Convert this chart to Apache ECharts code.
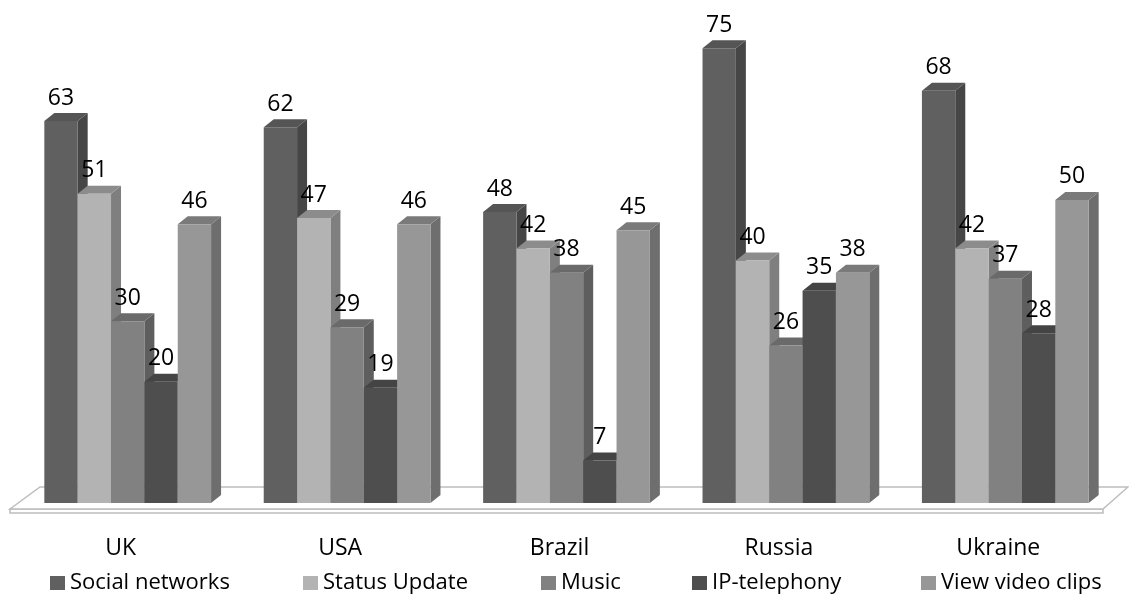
<!DOCTYPE html>
<html>
<head>
<meta charset="utf-8">
<script src="https://cdn.jsdelivr.net/npm/echarts/dist/echarts.min.js"></script>
<style>
    html, body { margin: 0; padding: 0; background: #fff; }
    #chart { width: 1129px; height: 599px; }
</style>
</head>
<body>
<div id="chart"></div>
<script>
var countries = ['UK', 'USA', 'Brazil', 'Russia', 'Ukraine'];
var seriesNames = ['Social networks', 'Status Update', 'Music', 'IP-telephony', 'View video clips'];

var socialNetworks = [63, 62, 48, 75, 68];
var statusUpdate = [51, 47, 42, 40, 42];
var music = [30, 29, 38, 26, 37];
var ipTelephony = [20, 19, 7, 35, 28];
var viewVideoClips = [46, 46, 45, 38, 50];

var values = [socialNetworks, statusUpdate, music, ipTelephony, viewVideoClips];

// front / side / top shades for each series
var shades = [
    ['#606060', '#464646', '#555555'],
    ['#b3b3b3', '#7f7f7f', '#8c8c8c'],
    ['#818181', '#5e5e5e', '#6a6a6a'],
    ['#4e4e4e', '#393939', '#444444'],
    ['#979797', '#6e6e6e', '#7a7a7a']
];

// left edge of each legend entry
var legendLeft = [45, 298, 536, 687, 916];

var font = '"Open Sans", "DejaVu Sans", sans-serif';
var depthX = 10, depthY = 8;

var makeBarRenderer = function(s) {
    return function(params, api) {
        var cat = api.value(0);
        var val = api.value(1);
        var base = api.coord([cat, 0]);
        var top = api.coord([cat, val]);
        var band = api.size([1, 0])[0];
        var bw = band * 0.152;
        var x0 = base[0] - 2.5 * bw + s * bw;
        var x1 = x0 + bw;
        var yb = base[1], yt = top[1];
        var c = shades[s];
        return {
            type: 'group',
            children: [
                {
                    type: 'polygon',
                    shape: { points: [[x1, yt], [x1 + depthX, yt - depthY], [x1 + depthX, yb - depthY], [x1, yb]] },
                    style: { fill: c[1] }
                },
                {
                    type: 'polygon',
                    shape: { points: [[x0, yt], [x0 + depthX, yt - depthY], [x1 + depthX, yt - depthY], [x1, yt]] },
                    style: { fill: c[2] }
                },
                {
                    type: 'rect',
                    shape: { x: x0, y: yt, width: bw, height: yb - yt },
                    style: { fill: c[0] }
                },
                {
                    type: 'text',
                    z2: 100,
                    style: {
                        text: String(val),
                        x: (x0 + x1) / 2,
                        y: yt - 23,
                        align: 'center',
                        verticalAlign: 'middle',
                        fill: '#000',
                        font: '23px ' + font
                    }
                }
            ]
        };
    };
};

// floor plane under the bars, sized from the grid
var renderFloor = function(params, api) {
    var cs = params.coordSys;
    var yb = cs.y + cs.height;
    var left = cs.x, right = cs.x + cs.width;
    return {
        type: 'group',
        children: [
            {
                type: 'polygon',
                shape: { points: [[left - 8, yb + 10], [left - 8, yb + 6], [right - 12, yb + 6], [right - 12, yb + 10]] },
                style: { fill: '#fff', stroke: '#bdbdbd', lineWidth: 1.5 }
            },
            {
                type: 'polygon',
                shape: { points: [[left - 8, yb + 6], [left + 22, yb - 16], [right + 13, yb - 16], [right - 12, yb + 6]] },
                style: { fill: '#fff', stroke: '#bdbdbd', lineWidth: 1.5 }
            }
        ]
    };
};

var series = [{
    type: 'custom',
    name: 'floor',
    z: 1,
    silent: true,
    renderItem: renderFloor,
    data: [[0, 0]],
    encode: { x: 0, y: 1 }
}];

var legends = [];

for (var s = 0; s < seriesNames.length; s++) {
    var data = [];
    for (var i = 0; i < countries.length; i++) {
        data.push([i, values[s][i]]);
    }
    series.push({
        type: 'custom',
        name: seriesNames[s],
        z: 2,
        silent: true,
        itemStyle: { color: shades[s][0] },
        renderItem: makeBarRenderer(s),
        data: data,
        encode: { x: 0, y: 1 }
    });
    legends.push({
        data: [seriesNames[s]],
        left: legendLeft[s],
        top: 567,
        icon: 'rect',
        itemWidth: 15,
        itemHeight: 14,
        textStyle: { color: '#000', fontSize: 22, fontFamily: font },
        selectedMode: false
    });
}

var chart = echarts.init(document.getElementById('chart'));
chart.setOption({
    animation: false,
    backgroundColor: '#fff',
    grid: { left: 18, right: 14, top: 18, bottom: 96 },
    xAxis: {
        type: 'category',
        data: countries,
        axisLine: { show: false },
        axisTick: { show: false },
        splitLine: { show: false },
        axisLabel: {
            color: '#000',
            fontSize: 23,
            fontFamily: font,
            margin: 34,
            padding: [0, 14, 0, 0]
        }
    },
    yAxis: {
        type: 'value',
        min: 0,
        max: 80,
        show: false
    },
    legend: legends,
    series: series
});
</script>
</body>
</html>
